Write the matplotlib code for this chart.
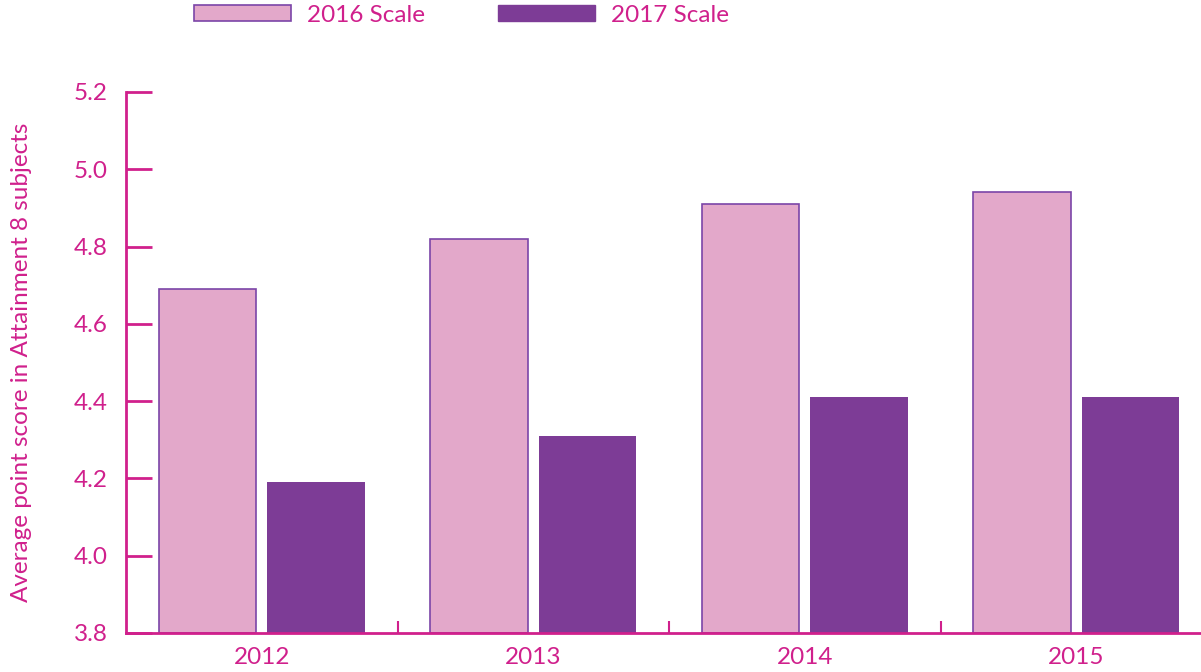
import matplotlib
matplotlib.use('Agg')
import matplotlib.pyplot as plt
import numpy as np
from matplotlib.patches import Patch

plt.rcParams['font.family'] = ['Lato', 'DejaVu Sans']

years = ['2012', '2013', '2014', '2015']
scale_2016 = [4.69, 4.82, 4.91, 4.94]
scale_2017 = [4.19, 4.31, 4.41, 4.41]
series_names = ['2016 Scale', '2017 Scale']

MAGENTA = '#D0208C'
PINK = '#E3A8CA'
PURPLE = '#7D3C96'
EDGE = '#7B45A8'

fig = plt.figure(figsize=(12.01, 6.72), dpi=100)
ax = fig.add_axes([126 / 1201, 1 - 633 / 672, 1086 / 1201, (633 - 92) / 672])

x = np.arange(len(years))
w = 0.36
ax.bar(x - 0.2, np.array(scale_2016) - 3.8, w, bottom=3.8, color=PINK,
       edgecolor=EDGE, linewidth=1.2, zorder=2)
ax.bar(x + 0.2, np.array(scale_2017) - 3.8, w, bottom=3.8, color=PURPLE,
       edgecolor=PURPLE, linewidth=0, zorder=2)

ax.set_xlim(-0.5, len(years) - 0.5)
ax.set_ylim(3.8, 5.2)
ax.set_yticks(np.arange(3.8, 5.21, 0.2))
ax.set_yticklabels(['%.1f' % v for v in np.arange(3.8, 5.21, 0.2)])
ax.set_xticks(x)
ax.set_xticklabels(years)
ax.set_xticks(np.arange(0.5, len(years) - 0.5), minor=True)

ax.tick_params(axis='y', direction='in', length=18.5, width=2, color=MAGENTA,
               labelcolor=MAGENTA, labelsize=17.5, pad=13)
ax.tick_params(axis='x', which='major', length=0, labelcolor=MAGENTA,
               labelsize=17.5, pad=10)
ax.tick_params(axis='x', which='minor', direction='in', length=8.5, width=1.5,
               color=MAGENTA)

for s in ['top', 'right']:
    ax.spines[s].set_visible(False)
for s in ['left', 'bottom']:
    ax.spines[s].set_color(MAGENTA)
    ax.spines[s].set_linewidth(2)

ax.set_ylabel('Average point score in Attainment 8 subjects', color=MAGENTA,
              fontsize=17.5, labelpad=30)

handles = [Patch(facecolor=PINK, edgecolor=EDGE, linewidth=1.2),
           Patch(facecolor=PURPLE, edgecolor=PURPLE)]
leg = fig.legend(handles, series_names, loc='center left',
                 bbox_to_anchor=(172 / 1201, 1 - 15 / 672), ncol=2,
                 frameon=False, fontsize=17.5, handlelength=4.0,
                 handleheight=0.65, handletextpad=0.65, columnspacing=3.0,
                 labelcolor=MAGENTA)

fig.savefig('out.png', dpi=100)
